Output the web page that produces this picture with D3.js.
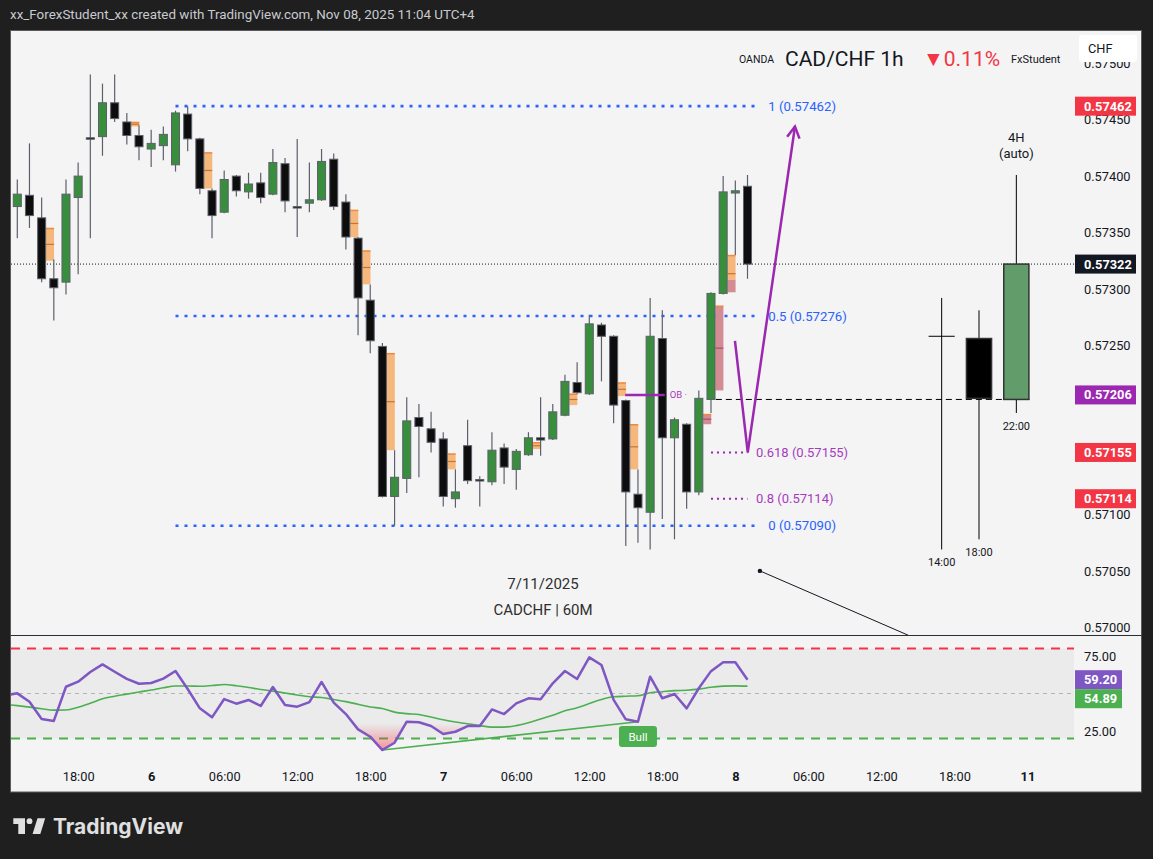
<!DOCTYPE html>
<html><head><meta charset="utf-8">
<script src="https://cdn.jsdelivr.net/npm/d3@7"></script>
<style>body{margin:0;background:#1f1f1f;}svg{display:block}</style>
</head><body><svg id="c" width="1153" height="859"></svg>
<script>
// ---------- DATA ----------
const titleText = "xx_ForexStudent_xx created with TradingView.com, Nov 08, 2025 11:04 UTC+4";
// hourly candles, index 0 = Nov 5 13:00 (UTC+4)
const candleOpen  = [.57373,.57383,.57363,.57309,.57306,.57381,.57434,.57435,.57465,.57448,.57436,.57424,.57427,.57410,.57455,.57433,.57387,.57368,.57400,.57386,.57394,.57384,.57411,.57373,.57376,.57379,.57415,.57377,.57345,.57290,.57249,.57116,.57132,.57186,.57176,.57167,.57114,.57161,.57131,.57129,.57159,.57140,.57153,.57168,.57167,.57188,.57217,.57207,.57268,.57258,.57201,.57118,.57102,.57256,.57168,.57180,.57120,.57202,.57296,.57385,.57391];
const candleHigh  = [.57397,.57429,.57381,.57326,.57397,.57412,.57490,.57482,.57490,.57456,.57445,.57441,.57444,.57458,.57462,.57434,.57389,.57405,.57401,.57403,.57403,.57424,.57416,.57433,.57412,.57424,.57420,.57384,.57346,.57304,.57252,.57157,.57204,.57198,.57191,.57173,.57140,.57184,.57134,.57173,.57163,.57158,.57173,.57204,.57198,.57224,.57235,.57277,.57270,.57259,.57202,.57140,.57292,.57281,.57186,.57181,.57210,.57297,.57400,.57396,.57401];
const candleLow   = [.57345,.57354,.57306,.57272,.57295,.57313,.57345,.57418,.57448,.57428,.57414,.57408,.57414,.57404,.57422,.57384,.57345,.57367,.57382,.57380,.57376,.57383,.57368,.57346,.57368,.57378,.57370,.57335,.57259,.57243,.57115,.57090,.57119,.57133,.57155,.57107,.57106,.57127,.57107,.57126,.57127,.57122,.57152,.57152,.57166,.57187,.57207,.57206,.57218,.57181,.57072,.57075,.57069,.57096,.57078,.57105,.57117,.57190,.57295,.57330,.57309];
const candleClose = [.57384,.57365,.57309,.57301,.57384,.57400,.57434,.57465,.57451,.57436,.57426,.57429,.57437,.57456,.57433,.57389,.57365,.57397,.57387,.57393,.57381,.57412,.57378,.57373,.57379,.57413,.57373,.57346,.57292,.57254,.57116,.57133,.57183,.57178,.57164,.57116,.57120,.57130,.57130,.57157,.57142,.57156,.57168,.57166,.57191,.57218,.57208,.57269,.57258,.57197,.57120,.57106,.57258,.57168,.57184,.57120,.57203,.57296,.57386,.57387,.57322];
// imbalance boxes drawn right of a candle: orange above split, pink below
const boxIndex  = [2,9,15,27,28,30,35,42,45,49,50,56,57,58];
const boxTop    = [.57354,.57448,.57421,.57370,.57334,.57243,.57154,.57164,.57207,.57217,.57180,.57189,.57285,.57330];
const boxSplit  = [.57325,.57444,.57389,.57346,.57304,.57157,.57140,.57158,.57197,.57205,.57140,.57189,.57285,.57308];
const boxBottom = [.57325,.57444,.57389,.57346,.57304,.57157,.57140,.57158,.57197,.57205,.57140,.57180,.57210,.57297];
// time axis
const tickIndex  = [5,11,17,23,29,35,41,47,53,59,65,71,77,83];
const tickLabels = ["18:00","6","06:00","12:00","18:00","7","06:00","12:00","18:00","8","06:00","12:00","18:00","11"];
const priceTicks = [0.5700,0.5705,0.5710,0.5715,0.5720,0.5725,0.5730,0.5735,0.5740,0.5745,0.5750];
// fib levels
const fibLevels = ["1","0.5","0"];
const fibPrices = [0.57462,0.57276,0.57090];
const fibExtLevels = ["0.618","0.8"];
const fibExtPrices = [0.57155,0.57114];
// projection path (index, price)
const pathIndex = [58.97,60.02,63.9];
const pathPrice = [0.57254,0.57155,0.57444];
// trendline
const trendIndex = [61.02,73.2];
const trendPrice = [0.57050,0.56993];
// order block
const obIndex = [49.95,53.2];
const obPrice = 0.57206;
// 4H overlay candles
const htfLabels = ["14:00","18:00","22:00"];
const htfOpen  = [0.57258,0.57256,0.57202];
const htfHigh  = [0.57292,0.57281,0.57401];
const htfLow   = [0.57069,0.57078,0.57190];
const htfClose = [0.57258,0.57203,0.57322];
// axis badges
const badgePrices = [0.57462,0.57322,0.57206,0.57155,0.57114];
// RSI (index -1 .. 60)
const rsiValues = [48.8,50.1,44.5,33,31.7,54.5,57.9,64.3,69.4,64.5,59.7,56.5,57,59.9,65,53,40.1,34.1,46.3,43.2,45.7,41.7,54.3,42.3,41.2,44.3,57.7,43.9,36.3,26.1,21.2,12.3,17.2,31.2,30.8,28.3,23,24.5,28.3,28.3,39.4,36.3,43.4,46.8,46.1,56.8,65,59.7,74.1,69,45.7,32.8,31.2,61.2,46.8,49.7,40.1,53.5,64.9,70.8,70.8,59.2];
const rsiMA = [42.8,41.9,40.9,39.8,38.9,39,40.8,43.5,46.5,48.2,49.6,51,52.3,53.8,55,55,54.8,55.3,56,55.2,54,52.7,51.6,50.3,49,47.8,47.3,46,44.6,42.8,41,40,37.6,36.6,36,34.3,32.5,31,29.8,28.6,27.6,27.6,28.6,30.5,33,35.5,38.5,40.5,43.3,46,47.8,48.2,48.5,50.5,51.2,51.9,52.2,52.9,54.2,54.9,55.1,54.89];
const rsiTicks = [75,25];
const rsiBands = [80,50,20];
const divIndex = [30,51];
const divValue = [12.3,31.2];
const rsiLast = 59.20, maLast = 54.89;

// ---------- DRAW ----------
const FONT = "Roboto, 'Noto Sans', sans-serif";
const AX = 12.8;
const svg = d3.select("#c").attr("font-family", FONT);
const paneL = 11, paneR = 1074, mainT = 31, mainB = 635, rsiT = 636, rsiB = 762;
const x = d3.scaleLinear().domain([0,60]).range([17.3,747.5]);
const y = d3.scaleLinear().domain([0.570,0.575]).range([627.3,63.3]);
const yR = d3.scaleLinear().domain([0,100]).range([768.5,618.5]);
const step = x(1)-x(0), bw = step*0.66;

svg.append("rect").attr("width",1153).attr("height",859).attr("fill","#1f1f1f");
svg.append("text").attr("x",10).attr("y",19).attr("fill","#c8cad0").attr("font-size",13.4).text(titleText);
svg.append("rect").attr("x",10.5).attr("y",30.5).attr("width",1131).attr("height",761.5).attr("fill","#f4f4f4").attr("stroke","#5a5a5a");

const defs = svg.append("defs");
defs.append("clipPath").attr("id","clipMain").append("rect").attr("x",paneL).attr("y",mainT).attr("width",paneR-paneL).attr("height",mainB-mainT);
defs.append("clipPath").attr("id","clipRsi").append("rect").attr("x",paneL).attr("y",rsiT).attr("width",paneR-paneL).attr("height",rsiB-rsiT);
defs.append("clipPath").attr("id","clipOS").append("rect").attr("x",paneL).attr("y",yR(30)).attr("width",paneR-paneL).attr("height",rsiB-yR(30));
defs.append("clipPath").attr("id","clipOB").append("rect").attr("x",paneL).attr("y",rsiT).attr("width",paneR-paneL).attr("height",yR(70)-rsiT);
const gOS = defs.append("linearGradient").attr("id","gradOS").attr("gradientUnits","userSpaceOnUse").attr("x1",0).attr("x2",0).attr("y1",yR(30)).attr("y2",yR(10));
gOS.append("stop").attr("offset",0).attr("stop-color","#f23645").attr("stop-opacity",0);
gOS.append("stop").attr("offset",1).attr("stop-color","#f23645").attr("stop-opacity",0.6);
const gOB = defs.append("linearGradient").attr("id","gradOB").attr("gradientUnits","userSpaceOnUse").attr("x1",0).attr("x2",0).attr("y1",yR(70)).attr("y2",yR(90));
gOB.append("stop").attr("offset",0).attr("stop-color","#4caf50").attr("stop-opacity",0);
gOB.append("stop").attr("offset",1).attr("stop-color","#4caf50").attr("stop-opacity",0.5);

// price axis (labels hidden under the coloured badges are not drawn)
const visibleTicks = priceTicks.filter(t => badgePrices.every(b => Math.abs(y(t)-y(b)) > 11));
const yAxisG = svg.append("g").attr("transform","translate(1084,0)")
  .call(d3.axisRight(y).tickValues(visibleTicks).tickFormat(d3.format(".5f")).tickSize(0).tickPadding(0));
yAxisG.select(".domain").remove();
yAxisG.attr("font-family",FONT).attr("font-size",AX).selectAll("text").attr("fill","#131722");

// time axis
const xAxisG = svg.append("g").attr("transform","translate(0,772)")
  .call(d3.axisBottom(x).tickValues(tickIndex).tickFormat((d,i)=>tickLabels[i]).tickSize(0).tickPadding(0));
xAxisG.select(".domain").remove();
xAxisG.attr("font-family",FONT).attr("font-size",AX).selectAll("text").attr("fill","#131722")
  .attr("font-weight",(d,i)=>tickLabels[i].includes(":")?400:700);

const main = svg.append("g").attr("clip-path","url(#clipMain)");

// current price dotted line
main.append("line").attr("x1",paneL).attr("x2",paneR).attr("y1",y(candleClose[60])).attr("y2",y(candleClose[60]))
  .attr("stroke","#131722").attr("stroke-width",1).attr("stroke-dasharray","1,2");

// fib lines
fibPrices.forEach((p,i)=>{
  main.append("line").attr("x1",x(13)).attr("x2",x(60.8)).attr("y1",y(p)).attr("y2",y(p))
    .attr("stroke","#2962ff").attr("stroke-width",2.6).attr("stroke-dasharray","3,6");
  main.append("text").attr("x",x(60.8)+11).attr("y",y(p)).attr("dy","0.35em").attr("fill","#2962ff").attr("font-size",13.2)
    .text(`${fibLevels[i]} (${p.toFixed(5)})`);
});
fibExtPrices.forEach((p,i)=>{
  main.append("line").attr("x1",x(57)).attr("x2",x(60)).attr("y1",y(p)).attr("y2",y(p))
    .attr("stroke","#9c27b0").attr("stroke-width",2).attr("stroke-dasharray","2,4");
  main.append("text").attr("x",x(60)+8.5).attr("y",y(p)).attr("dy","0.35em").attr("fill","#a73bbd").attr("font-size",13)
    .text(`${fibExtLevels[i]} (${p.toFixed(5)})`);
});

// boxes
boxIndex.forEach((bi,k)=>{
  const x0 = x(bi+0.36), w = x(bi+1.02)-x(bi+0.36);
  const t = y(boxTop[k]), s = y(boxSplit[k]), b = y(boxBottom[k]);
  if (s>t) main.append("rect").attr("x",x0).attr("y",t).attr("width",w).attr("height",Math.max(1,s-t)).attr("fill","#f6b77c");
  if (b>s) main.append("rect").attr("x",x0).attr("y",s).attr("width",w).attr("height",b-s).attr("fill","#d48c94");
  main.append("line").attr("x1",x0).attr("x2",x0+w).attr("y1",t+0.5).attr("y2",t+0.5).attr("stroke","#ef8a3f").attr("stroke-width",1.5);
  const m = (t+b)/2;
  main.append("line").attr("x1",x0).attr("x2",x0+w).attr("y1",m).attr("y2",m).attr("stroke", m<=s ? "#c47535":"#9e5560").attr("stroke-width",1.2);
});

// candles
const cg = main.append("g");
candleOpen.forEach((o,i)=>{
  const c = candleClose[i], up = c>o;
  cg.append("line").attr("x1",x(i)).attr("x2",x(i)).attr("y1",y(candleHigh[i])).attr("y2",y(candleLow[i]))
    .attr("stroke","#5d606b").attr("stroke-width",1.2);
  const top = y(Math.max(o,c)), h = Math.max(1.5, Math.abs(y(o)-y(c)));
  cg.append("rect").attr("x",x(i)-bw/2).attr("y",top).attr("width",bw).attr("height",h)
    .attr("fill", up ? "#388e3c" : "#0d0d0d").attr("stroke","#5d606b").attr("stroke-width",1);
});

// OB line
main.append("line").attr("x1",x(obIndex[0])).attr("x2",x(obIndex[1])).attr("y1",y(obPrice)).attr("y2",y(obPrice))
  .attr("stroke","#9c27b0").attr("stroke-width",2.5);
main.append("text").attr("x",x(obIndex[1])+5).attr("y",y(obPrice)).attr("dy","0.35em").attr("fill","#a73bbd").attr("font-size",9.5).text("OB ·");

// HTF open dashed line
const hx = d3.scaleBand().domain(htfLabels).range([923,1035]).paddingInner(0.3).paddingOuter(0.15);
main.append("line").attr("x1",x(57.4)).attr("x2",hx("22:00")+hx.bandwidth()).attr("y1",y(htfOpen[2])).attr("y2",y(htfOpen[2]))
  .attr("stroke","#000").attr("stroke-width",1).attr("stroke-dasharray","6,4");

// projection path
const pts = pathIndex.map((d,i)=>[x(d),y(pathPrice[i])]);
main.append("path").attr("d",d3.line()(pts)).attr("fill","none").attr("stroke","#9c27b0").attr("stroke-width",2.5).attr("stroke-linejoin","miter");
{
  const [a,b] = [pts[1],pts[2]]; const ang = Math.atan2(b[1]-a[1],b[0]-a[0]); const L=13;
  const w1=[b[0]-L*Math.cos(ang-0.5), b[1]-L*Math.sin(ang-0.5)], w2=[b[0]-L*Math.cos(ang+0.5), b[1]-L*Math.sin(ang+0.5)];
  main.append("path").attr("d",d3.line()([w1,b,w2])).attr("fill","none").attr("stroke","#9c27b0").attr("stroke-width",2.5);
}

// trend line
main.append("line").attr("x1",x(trendIndex[0])).attr("y1",y(trendPrice[0])).attr("x2",x(trendIndex[1])).attr("y2",y(trendPrice[1]))
  .attr("stroke","#131722").attr("stroke-width",1);
main.append("circle").attr("cx",x(trendIndex[0])).attr("cy",y(trendPrice[0])).attr("r",2.2).attr("fill","#131722");

// 4H overlay
htfLabels.forEach((lab,i)=>{
  const cx = hx(lab)+hx.bandwidth()/2;
  main.append("line").attr("x1",cx).attr("x2",cx).attr("y1",y(htfHigh[i])).attr("y2",y(htfLow[i])).attr("stroke","#000").attr("stroke-width",1);
  if (Math.abs(htfOpen[i]-htfClose[i])<0.00002) {
    main.append("line").attr("x1",hx(lab)).attr("x2",hx(lab)+hx.bandwidth()).attr("y1",y(htfOpen[i])).attr("y2",y(htfOpen[i])).attr("stroke","#000").attr("stroke-width",1);
  } else {
    const up = htfClose[i]>htfOpen[i];
    main.append("rect").attr("x",hx(lab)+0.5).attr("y",y(Math.max(htfOpen[i],htfClose[i]))).attr("width",hx.bandwidth()-1)
      .attr("height",Math.abs(y(htfOpen[i])-y(htfClose[i]))).attr("fill",up?"#629c6b":"#000").attr("stroke","#333").attr("stroke-width",1.5);
  }
  main.append("text").attr("x",cx).attr("y",y(htfLow[i])+17).attr("text-anchor","middle").attr("font-size",11).attr("fill","#131722").text(lab);
});
main.append("text").attr("x",hx("22:00")+hx.bandwidth()/2).attr("y",142).attr("text-anchor","middle").attr("font-size",13).attr("fill","#131722").text("4H");
main.append("text").attr("x",hx("22:00")+hx.bandwidth()/2).attr("y",158).attr("text-anchor","middle").attr("font-size",13).attr("fill","#131722").text("(auto)");

// chart annotations
main.append("text").attr("x",543).attr("y",589).attr("text-anchor","middle").attr("font-size",15).attr("fill","#2f2f2f").text("7/11/2025");
main.append("text").attr("x",543).attr("y",615).attr("text-anchor","middle").attr("font-size",15).attr("fill","#2f2f2f").text("CADCHF | 60M");

// header legend
svg.append("text").attr("x",739).attr("y",63).attr("font-size",10.5).attr("fill","#131722").text("OANDA");
svg.append("text").attr("x",785).attr("y",66).attr("font-size",21).attr("fill","#131722").text("CAD/CHF 1h");
svg.append("text").attr("x",923).attr("y",66).attr("font-size",21).attr("fill","#f23645").text("▼0.11%");
svg.append("text").attr("x",1011).attr("y",63).attr("font-size",11).attr("fill","#131722").text("FxStudent");
svg.append("rect").attr("x",1079).attr("y",35).attr("width",58).attr("height",27).attr("rx",3).attr("fill","#ffffff");
svg.append("text").attr("x",1088).attr("y",53).attr("font-size",AX).attr("fill","#131722").text("CHF");

// separator
svg.append("line").attr("x1",10.5).attr("x2",1141.5).attr("y1",635.5).attr("y2",635.5).attr("stroke","#2a2e39").attr("stroke-width",1);

// price badges
const badgeColors = ["#f23645","#131722","#9c27b0","#f23645","#f23645"];
badgePrices.forEach((p,i)=>{
  svg.append("rect").attr("x",1075).attr("y",y(p)-9.5).attr("width",61).attr("height",19).attr("fill",badgeColors[i]);
  svg.append("text").attr("x",1084).attr("y",y(p)).attr("dy","0.35em").attr("fill","#fff").attr("font-size",AX).attr("font-weight",700).text(p.toFixed(5));
});

// ---------- RSI pane ----------
const rsi = svg.append("g").attr("clip-path","url(#clipRsi)");
rsi.append("rect").attr("x",paneL).attr("width",paneR-paneL).attr("y",yR(80)).attr("height",yR(20)-yR(80)).attr("fill","#ebebeb");
const bandColors = ["#f23645","#b2b5be","#4caf50"];
rsiBands.forEach((v,i)=>{
  rsi.append("line").attr("x1",paneL).attr("x2",paneR).attr("y1",yR(v)).attr("y2",yR(v)).attr("stroke",bandColors[i])
    .attr("stroke-width", v===50?1:2).attr("stroke-dasharray", v===50?"4,4":"9,7");
});
const rx = (d,i)=>x(i-1);
rsi.append("g").attr("clip-path","url(#clipOS)").append("path")
  .attr("d",d3.area().x(rx).y0(yR(30)).y1(d=>yR(d))(rsiValues)).attr("fill","url(#gradOS)");
rsi.append("g").attr("clip-path","url(#clipOB)").append("path")
  .attr("d",d3.area().x(rx).y0(yR(70)).y1(d=>yR(d))(rsiValues)).attr("fill","url(#gradOB)");
rsi.append("path").attr("d",d3.line().x(rx).y(d=>yR(d)).curve(d3.curveMonotoneX)(rsiMA)).attr("fill","none").attr("stroke","#4caf50").attr("stroke-width",1.6);
rsi.append("path").attr("d",d3.line().x((d,i)=>x(divIndex[i])).y(d=>yR(d))(divValue)).attr("fill","none").attr("stroke","#4caf50").attr("stroke-width",1.6);
rsi.append("path").attr("d",d3.line().x(rx).y(d=>yR(d))(rsiValues)).attr("fill","none").attr("stroke","#7e57c2").attr("stroke-width",2.5).attr("stroke-linejoin","round");
// Bull label
rsi.append("rect").attr("x",x(divIndex[1])-19).attr("y",726).attr("width",38).attr("height",21).attr("rx",3).attr("fill","#4caf50");
rsi.append("text").attr("x",x(divIndex[1])).attr("y",736.5).attr("dy","0.35em").attr("text-anchor","middle").attr("fill","#fff").attr("font-size",11.5).text("Bull");

// RSI axis
const rAxisG = svg.append("g").attr("transform","translate(1084,0)")
  .call(d3.axisRight(yR).tickValues(rsiTicks).tickFormat(d3.format(".2f")).tickSize(0).tickPadding(0));
rAxisG.select(".domain").remove();
rAxisG.attr("font-family",FONT).attr("font-size",AX).selectAll("text").attr("fill","#131722");
const b1 = yR(rsiLast), b2 = Math.max(yR(maLast), b1+19);
[[b1,rsiLast,"#7e57c2"],[b2,maLast,"#4caf50"]].forEach(([yc,v,c])=>{
  svg.append("rect").attr("x",1075).attr("y",yc-9.5).attr("width",47).attr("height",19).attr("fill",c);
  svg.append("text").attr("x",1084).attr("y",yc).attr("dy","0.35em").attr("fill","#fff").attr("font-size",AX).attr("font-weight",700).text(v.toFixed(2));
});

// ---------- watermark ----------
const wm = svg.append("g").attr("fill","#e0e0e0");
wm.append("path").attr("d","M13.3,818.3 H25 V834 H18.3 V824 H13.3 Z");
wm.append("circle").attr("cx",29.5).attr("cy",821.2).attr("r",2.9);
wm.append("path").attr("d","M37.5,818.3 L45.2,818.3 L40.3,834 L32.6,834 Z");
wm.append("text").attr("x",53).attr("y",834).attr("font-family","Inter, Lato, sans-serif").attr("font-weight",700).attr("font-size",21).text("TradingView");
</script></body></html>
